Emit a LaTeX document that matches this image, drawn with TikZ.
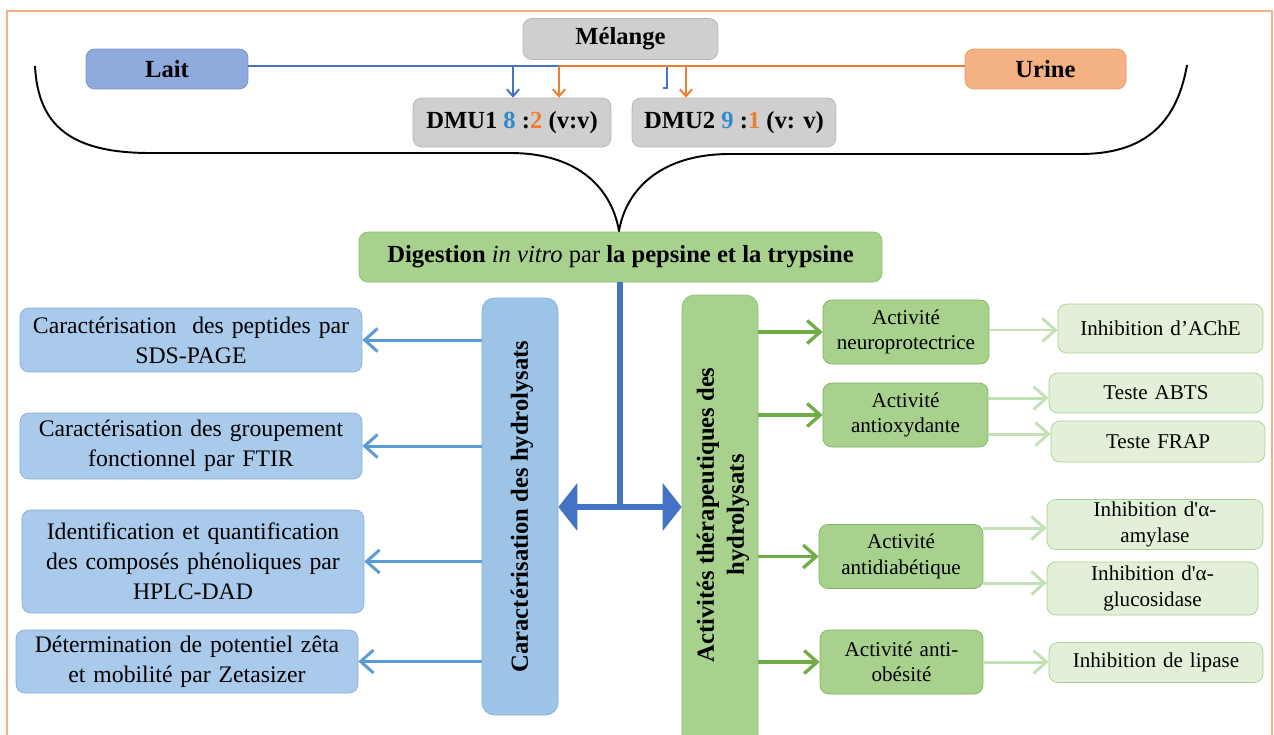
\documentclass[tikz,border=0pt]{standalone}
\usepackage{fontspec}
\setmainfont{Liberation Serif}
\usetikzlibrary{arrows.meta}

\definecolor{frameorange}{HTML}{F4B183}
\definecolor{laitfill}{HTML}{8FAADC}
\definecolor{laitline}{HTML}{7590C8}
\definecolor{urinefill}{HTML}{F4B183}
\definecolor{urineline}{HTML}{E39A66}
\definecolor{grayfill}{HTML}{D0CECE}
\definecolor{grayline}{HTML}{B4B4B4}
\definecolor{digfill}{HTML}{A9D18E}
\definecolor{digline}{HTML}{8CBF6C}
\definecolor{caractfill}{HTML}{A9CAEB}
\definecolor{caractline}{HTML}{86AEDB}
\definecolor{colblue}{HTML}{9DC3E6}
\definecolor{activfill}{HTML}{A9D18E}
\definecolor{activline}{HTML}{7FB35B}
\definecolor{testefill}{HTML}{E2F0D9}
\definecolor{testeline}{HTML}{A9CF90}
\definecolor{lineblue}{HTML}{4472C4}
\definecolor{lineorange}{HTML}{ED7D31}
\definecolor{numblue}{HTML}{2E8BC9}
\definecolor{arrowblue}{HTML}{5B9BD5}
\definecolor{arrowgreen}{HTML}{70AD47}
\definecolor{arrowlight}{HTML}{C5E0B4}

\begin{document}
\begin{tikzpicture}[x=0.02cm, y=-0.02cm,
   box/.style={rectangle, rounded corners=5pt, draw, inner sep=1pt, align=center},
   topbox/.style={box, fill=grayfill, draw=grayline, font=\fontsize{14}{17}\selectfont\bfseries},
   caract/.style={box, fill=caractfill, draw=caractline, minimum width=6.84cm, text width=6.7cm, font=\fontsize{13.5}{17}\selectfont},
   activ/.style={box, fill=activfill, draw=activline, minimum height=1.28cm, text width=3.1cm, font=\fontsize{12}{14.5}\selectfont},
   teste/.style={box, fill=testefill, draw=testeline, text width=4cm, font=\fontsize{12}{14.5}\selectfont},
   colbox/.style={rectangle, rounded corners=7pt, draw},
   inarrow/.style={line width=1.1pt, -{Straight Barb[length=4pt,width=7pt]}},
   barrow/.style={draw=arrowblue, line width=1.7pt, -{Straight Barb[length=0.26cm,width=0.46cm]}},
   garrow/.style={draw=arrowgreen, line width=1.9pt, -{Straight Barb[length=0.26cm,width=0.46cm]}},
   larrow/.style={draw=arrowlight, line width=1.7pt, -{Straight Barb[length=0.26cm,width=0.46cm]}}]
   \clip (0,0) rectangle (1274,734);
   \draw[draw=frameorange, line width=1.2pt] (7,11) rectangle (1272,760);

   % mixing of the two fluids
   \node[topbox, minimum width=3.9cm, minimum height=0.82cm] (melange) at (620.5,39) {Mélange};
   \node[topbox, fill=laitfill, draw=laitline, minimum width=3.24cm, minimum height=0.8cm] (lait) at (167,69) {Lait};
   \node[topbox, fill=urinefill, draw=urineline, minimum width=3.22cm, minimum height=0.8cm] (urine) at (1045.5,69) {Urine};
   \node[topbox, minimum width=3.96cm, minimum height=0.98cm] (dmu1) at (512,122.5)
      {DMU1 {\color{numblue}8} :{\color{lineorange}2} (v:v)};
   \node[topbox, minimum width=4.08cm, minimum height=0.98cm] (dmu2) at (734,122.5)
      {DMU2 {\color{numblue}9} :{\color{lineorange}1} (v: v)};

   \coordinate (bl1) at (513,66);
   \coordinate (bl2) at (667,66);
   \coordinate (or1) at (559,66);
   \coordinate (or2) at (686,66);
   \draw[lineblue, line width=1.1pt] (lait.east |- bl1) -- (bl2) -- ++(0,22) -- ++(-4,0);
   \draw[lineorange, line width=1.1pt] (urine.west |- or1) -- (or1);
   \draw[lineblue, inarrow] (bl1) -- (dmu1.north -| bl1);
   \draw[lineorange, inarrow] (or1) -- (dmu1.north -| or1);
   \draw[lineorange, inarrow] (or2) -- (dmu2.north -| or2);

   % brace
   \draw[line width=1.1pt] (35,66) .. controls (38,125) and (70,153) .. (150,153) -- (510,153)
      .. controls (580,153) and (612,190) .. (619,231)
      .. controls (626,190) and (660,154) .. (730,154) -- (1080,154)
      .. controls (1140,154) and (1176,128) .. (1187,65);

   \node[box, fill=digfill, draw=digline, minimum width=10.46cm, minimum height=1cm,
      font=\fontsize{14}{17}\selectfont] (dig) at (620.5,257)
      {\textbf{Digestion} \textit{in vitro} par \textbf{la pepsine et la trypsine}};

   % the two branches
   \node[colbox, fill=colblue, draw=caractline, minimum width=1.52cm, minimum height=8.34cm] (lcol) at (520,506.5) {};
   \node[rotate=90, font=\fontsize{14}{17}\selectfont\bfseries] (lcoltext) at (522,506.5) {Caractérisation des hydrolysats};
   \node[colbox, fill=digfill, draw=digline, minimum width=1.52cm, minimum height=9.3cm] (rcol) at (720,527.5) {};
   \node[rotate=90, align=center, font=\fontsize{14}{17}\selectfont\bfseries] (rcoltext) at (723,515)
      {Activités thérapeutiques des\\hydrolysats};

   \coordinate (split) at (620,507);
   \draw[lineblue, line width=3.4pt] (dig.south -| split) -- ([yshift=-1.7pt]split);
   \draw[lineblue, line width=3.4pt, {Triangle[length=0.38cm,width=0.94cm]}-{Triangle[length=0.38cm,width=0.94cm]}]
      (lcol.east |- split) -- (rcol.west |- split);

   % characterisation
   \node[caract, minimum height=1.28cm] (c1) at (191,340) {Caractérisation\ \ des peptides par\\SDS-PAGE};
   \node[caract, minimum height=1.32cm] (c2) at (191,446) {Caractérisation des groupement\\fonctionnel par FTIR};
   \node[caract, minimum height=2.06cm] (c3) at (193,561.5) {Identification et quantification\\des composés phénoliques par\\HPLC-DAD};
   \node[caract, minimum height=1.26cm] (c4) at (187,661.5) {Détermination de potentiel zêta\\et mobilité par Zetasizer};
   \foreach \c in {c1,c2,c3,c4}
      \draw[barrow] (lcol.west |- \c) -- (\c.east);

   % activities
   \node[activ, minimum width=3.32cm] (a1) at (906,332) {Activité\\neuroprotectrice};
   \node[activ, minimum width=3.3cm] (a2) at (905.5,415) {Activité\\antioxydante};
   \node[activ, minimum width=3.28cm] (a3) at (901,556.5) {Activité\\antidiabétique};
   \node[activ, minimum width=3.26cm] (a4) at (901.5,662) {Activité anti-\\obésité};
   \foreach \a in {a1,a2,a3,a4}
      \draw[garrow] (rcol.east |- \a) -- (\a.west);

   % tests
   \node[teste, minimum width=4.1cm, minimum height=0.98cm] (t1) at (1160.5,328.5) {Inhibition d’AChE};
   \node[teste, minimum width=4.28cm, minimum height=0.8cm] (t2) at (1156,393) {Teste ABTS};
   \node[teste, minimum width=4.28cm, minimum height=0.82cm] (t3) at (1158,441.5) {Teste FRAP};
   \node[teste, minimum width=4.32cm, minimum height=1cm] (t4) at (1155,524.5) {Inhibition d\textquotesingle α-\\amylase};
   \node[teste, minimum width=4.22cm, minimum height=1.06cm] (t5) at (1152.5,588.5) {Inhibition d\textquotesingle α-\\glucosidase};
   \node[teste, minimum width=4.28cm, minimum height=0.8cm] (t6) at (1156,662.5) {Inhibition de lipase};
   \draw[larrow] (a1.east |- 0,330) -- (t1.west |- 0,330);
   \draw[larrow] (a2.east |- 0,398) -- (t2.west |- 0,398);
   \draw[larrow] (a2.east |- 0,434) -- (t3.west |- 0,434);
   \draw[larrow] (a3.east |- 0,528) -- (t4.west |- 0,528);
   \draw[larrow] (a3.east |- 0,583) -- (t5.west |- 0,583);
   \draw[larrow] (a4.east |- 0,662) -- (t6.west |- 0,662);
\end{tikzpicture}
\end{document}
